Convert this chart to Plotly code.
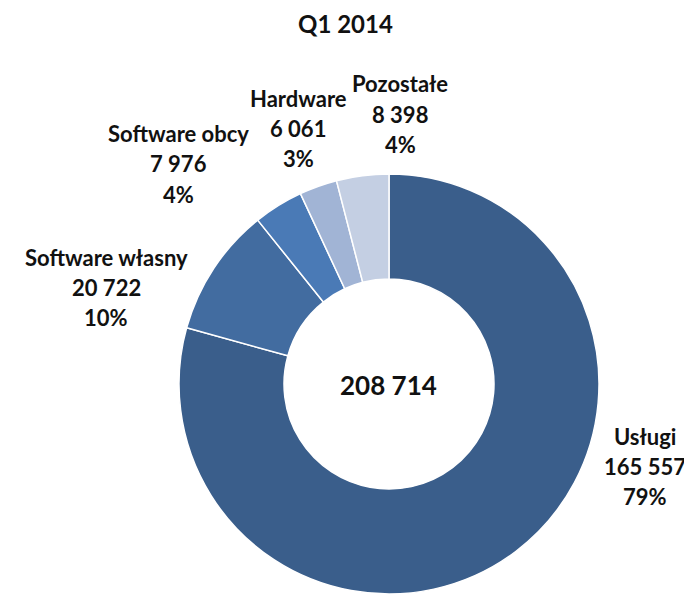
import plotly.graph_objects as go

categories = ["Usługi", "Software własny", "Software obcy", "Hardware", "Pozostałe"]
values = [165557, 20722, 7976, 6061, 8398]
colors = ["#3a5e8b", "#426ca0", "#4a7ab6", "#a1b4d5", "#c4cfe3"]
title_text = "Q1 2014"

# label anchor positions in page pixels (x center, y of first line)
label_pos = [(645, 436), (106, 257), (178, 134), (298, 99), (400, 84)]

OFF = 8  # default body margin of the html page
W, H = 684, 586
total = sum(values)

def fmt(v):
    return f"{v:,}".replace(",", " ")

def px(x):
    return (x - OFF) / W

def py(y):
    return 1 - (y - OFF) / H

fig = go.Figure()
cx, cy, r = 389, 384, 210
fig.add_trace(go.Pie(
    labels=categories, values=values, sort=False, direction="clockwise", rotation=0,
    hole=0.5, textinfo="none", hoverinfo="skip",
    marker=dict(colors=colors, line=dict(color="white", width=1.5)),
    domain=dict(x=[px(cx - r), px(cx + r)], y=[max(0, py(cy + r)), py(cy - r)]),
    showlegend=False,
))

font_family = "Lato, 'Open Sans', sans-serif"
anns = []
for cat, v, (lx, ly) in zip(categories, values, label_pos):
    lines = [cat, fmt(v), f"{round(100 * v / total)}%"]
    for i, t in enumerate(lines):
        anns.append(dict(x=px(lx), y=py(ly + 30 * i), xref="paper", yref="paper",
                         text=f"<b>{t}</b>", showarrow=False, xanchor="center", yanchor="middle",
                         font=dict(family=font_family, size=22, color="#111111")))
anns.append(dict(x=px(cx), y=py(cy + 1), xref="paper", yref="paper", text=f"<b>{fmt(total)}</b>",
                 showarrow=False, xanchor="center", yanchor="middle",
                 font=dict(family=font_family, size=26, color="#111111")))
anns.append(dict(x=px(345), y=1, xref="paper", yref="paper", text=f"<b>{title_text}</b>",
                 showarrow=False, xanchor="center", yanchor="top", borderpad=0,
                 font=dict(family=font_family, size=24, color="#111111")))

fig.update_layout(width=W, height=H, margin=dict(l=0, r=0, t=0, b=0),
                  paper_bgcolor="white", plot_bgcolor="white", annotations=anns)
fig.write_html("out.html")
